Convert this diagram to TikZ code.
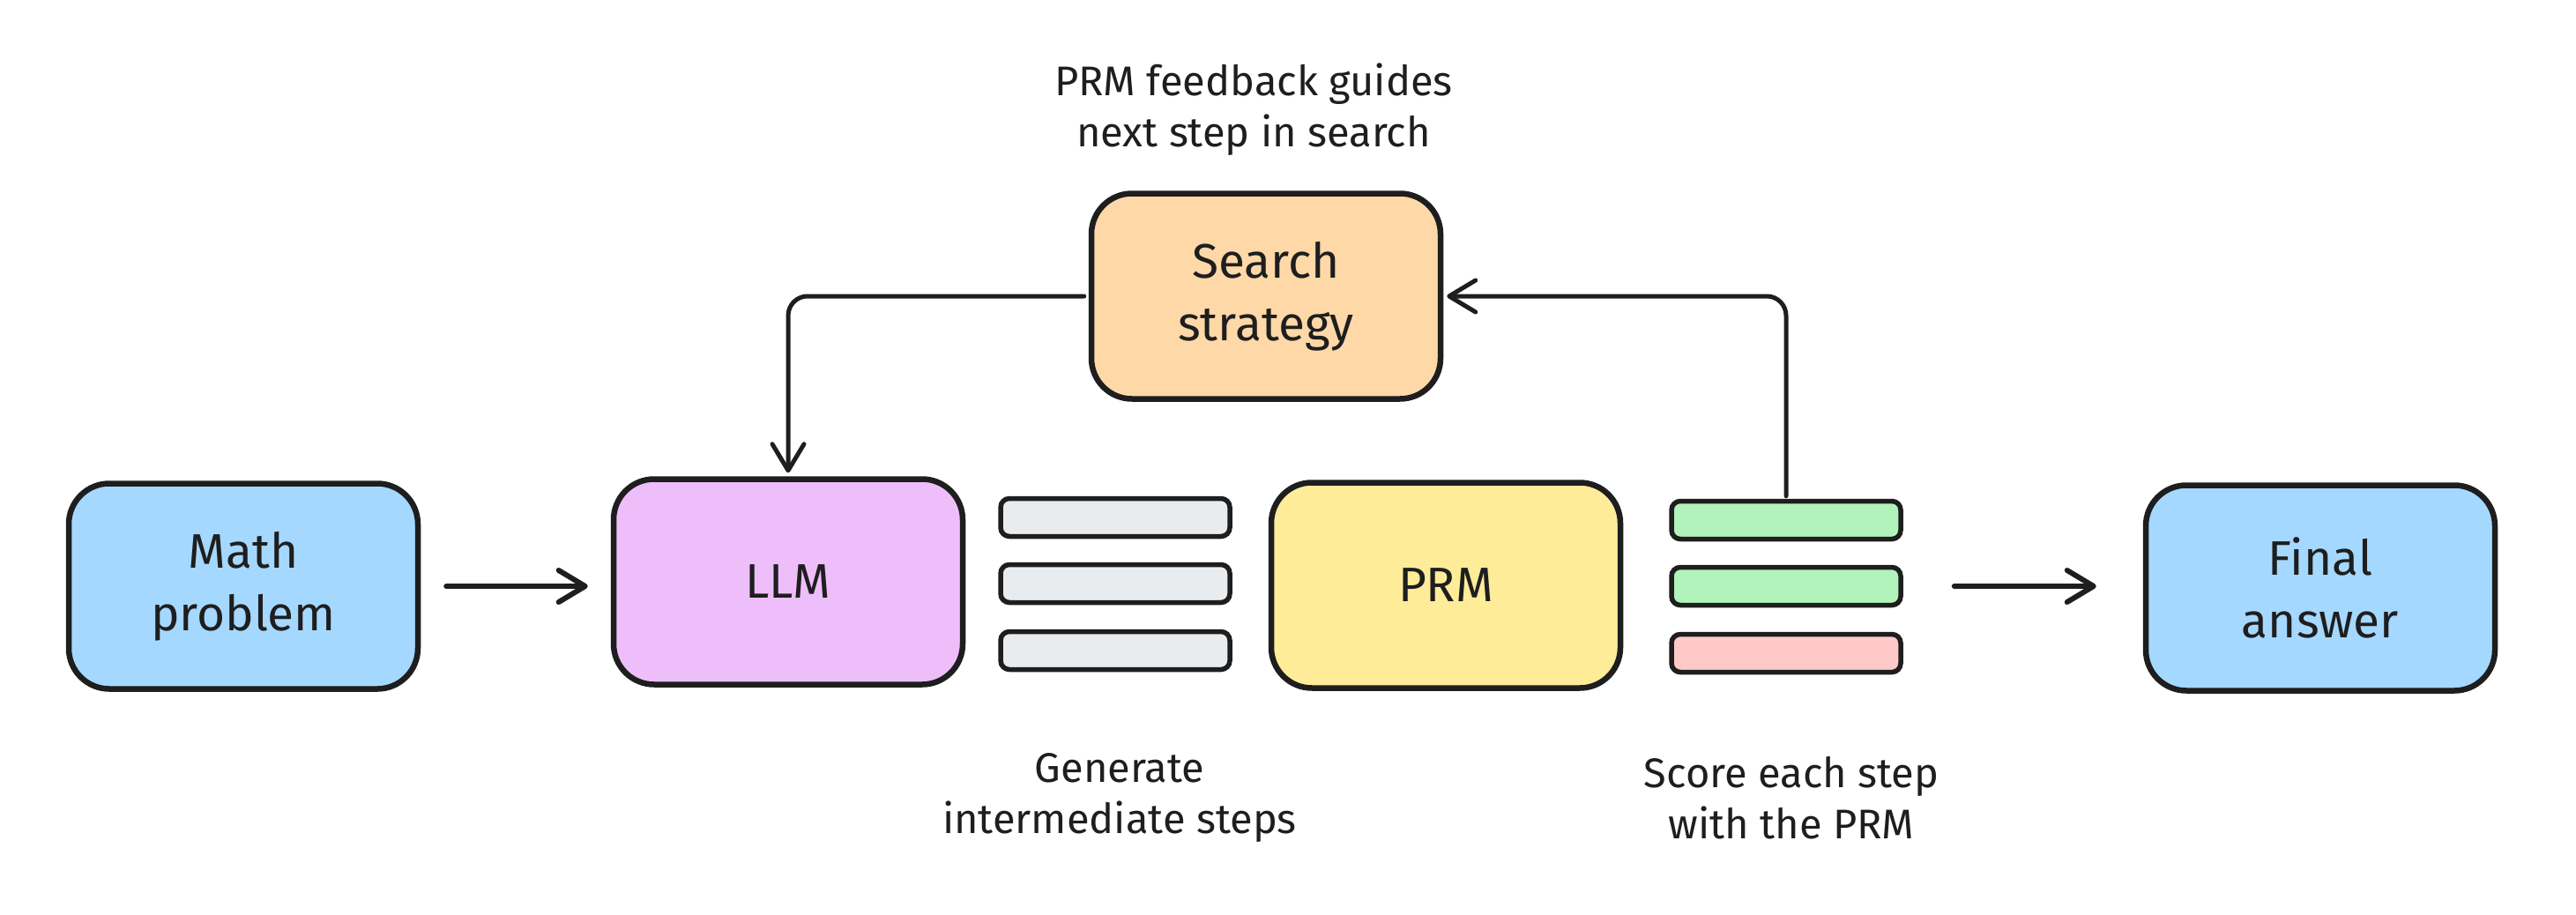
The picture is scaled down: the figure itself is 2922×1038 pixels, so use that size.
\documentclass[tikz,border=0pt]{standalone}
\usepackage{fontspec}
\setmainfont{Fira Sans}
\usetikzlibrary{arrows.meta,calc}
\definecolor{ink}{HTML}{1E1E1E}
\definecolor{bluefill}{HTML}{A5D8FF}
\definecolor{purplefill}{HTML}{EEBEFA}
\definecolor{orangefill}{HTML}{FFD8A8}
\definecolor{yellowfill}{HTML}{FFEC99}
\definecolor{greyfill}{HTML}{E9ECEF}
\definecolor{greenfill}{HTML}{B2F2BB}
\definecolor{redfill}{HTML}{FFC9C9}
\tikzset{
  bigbox/.style={draw=ink, line width=6.5pt, rounded corners=46pt,
    minimum width=396pt, minimum height=233pt, inner sep=0pt, align=center,
    font=\fontsize{55}{71}\selectfont, text=ink},
  stepbar/.style={draw=ink, line width=5.5pt, rounded corners=10pt,
    minimum width=260pt, minimum height=43pt, inner sep=0pt},
  lbl/.style={align=center, text=ink, inner sep=0pt,
    font=\fontsize{47}{58}\selectfont},
  tipshape/.style={-{Straight Barb[length=30pt,width=36pt,round]}},
  mainarrow/.style={draw=ink, line width=6pt, line cap=round, tipshape},
  elbow/.style={draw=ink, line width=5pt, line cap=round, rounded corners=22pt, tipshape}
}
\begin{document}
\begin{tikzpicture}[x=1pt,y=-1pt]
\useasboundingbox (0,0) rectangle (2922,1038);
\node[bigbox, fill=bluefill] (math) at (276,665) {Math\\problem};
\node[bigbox, fill=purplefill] (llm) at (894,660) {LLM};
\node[bigbox, fill=orangefill] (search) at (1436,336) {Search\\strategy};
\node[bigbox, fill=yellowfill] (prm) at (1640,664) {PRM};
\node[bigbox, fill=bluefill] (final) at (2632,667) {Final\\answer};

\node[stepbar, fill=greyfill] (s1) at (1265,587) {};
\node[stepbar, fill=greyfill] (s2) at (1265,662) {};
\node[stepbar, fill=greyfill] (s3) at (1265,738) {};

\node[stepbar, fill=greenfill] (g1) at (2026,590) {};
\node[stepbar, fill=greenfill] (g2) at (2026,665) {};
\node[stepbar, fill=redfill] (g3) at (2026,741) {};

\node[lbl] (toplbl) at (1422,124) {PRM feedback guides\\next step in search};
\node[lbl] (genlbl) at (1270,905) {Generate\\intermediate steps};
\node[lbl] (scorelbl) at (2032,905) {Score each step\\with the PRM};

\draw[mainarrow, shorten <=29pt, shorten >=26pt] (math.east) -- (llm.west |- math.east);
\draw[mainarrow, shorten <=58pt, shorten >=53pt] (g2.east) -- (final.west |- g2.east);
\draw[elbow, shorten <=5pt, shorten >=4pt] (search.west) -| (llm.north);
\draw[elbow, shorten <=3pt, shorten >=4pt] (g1.north) |- (search.east);
\end{tikzpicture}
\end{document}
